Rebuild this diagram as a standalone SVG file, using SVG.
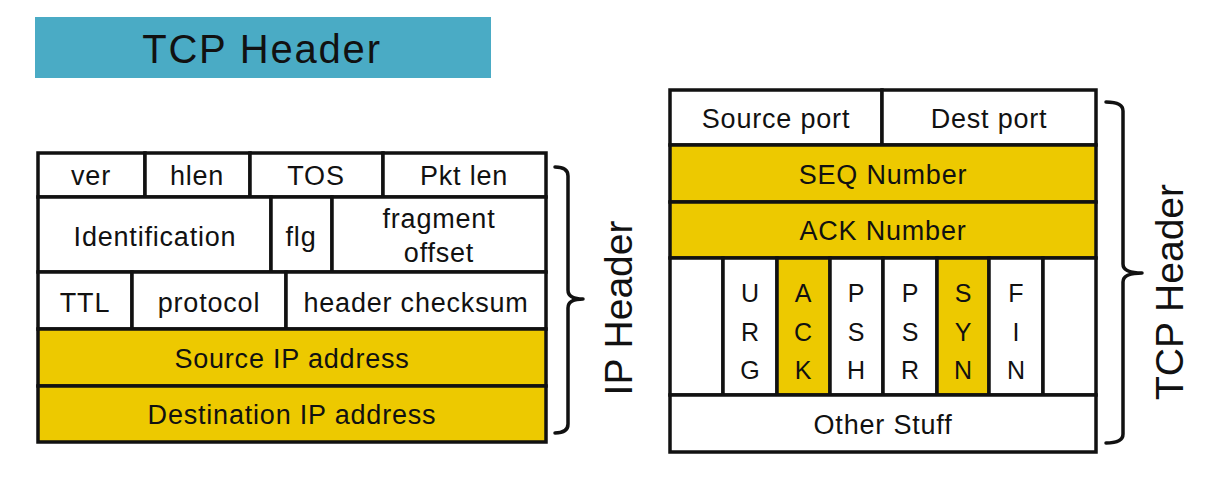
<svg xmlns="http://www.w3.org/2000/svg" width="1207" height="482" viewBox="0 0 1207 482">
<style>
.c{fill:#fff;stroke:#111;stroke-width:3.5}
.y{fill:#EDC900}
.t{font-family:"Liberation Sans",Arial,sans-serif;font-size:27px;letter-spacing:0.8px;fill:#111;text-anchor:middle}
.f{font-size:25px;letter-spacing:0}
.big{font-size:39px;letter-spacing:0}
.ttl{font-size:40px;letter-spacing:1.8px}
.br{fill:none;stroke:#111;stroke-width:3.5;stroke-linecap:round;stroke-linejoin:round}
</style>
<rect width="1207" height="482" fill="#fff"/>
<g id="title">
<rect x="35" y="17" width="456" height="61" fill="#4AABC5"/>
<text class="t ttl" x="262" y="63">TCP Header</text>
</g>
<g id="ip-header">
<g id="ip-ver"><rect class="c" x="38" y="153" width="107" height="44"/><text class="t" x="91" y="185">ver</text></g>
<g id="ip-hlen"><rect class="c" x="145" y="153" width="105" height="44"/><text class="t" x="197" y="185">hlen</text></g>
<g id="ip-tos"><rect class="c" x="250" y="153" width="133" height="44"/><text class="t" x="316" y="185">TOS</text></g>
<g id="ip-pktlen"><rect class="c" x="383" y="153" width="163" height="44"/><text class="t" x="464" y="185">Pkt len</text></g>
<g id="ip-id"><rect class="c" x="38" y="197" width="233" height="75"/><text class="t" x="155" y="246">Identification</text></g>
<g id="ip-flg"><rect class="c" x="271" y="197" width="61" height="75"/><text class="t" x="301" y="246">flg</text></g>
<g id="ip-frag"><rect class="c" x="332" y="197" width="214" height="75"/><text class="t" x="439" y="228">fragment</text><text class="t" x="439" y="262">offset</text></g>
<g id="ip-ttl"><rect class="c" x="38" y="272" width="94" height="57"/><text class="t" x="85" y="312">TTL</text></g>
<g id="ip-proto"><rect class="c" x="132" y="272" width="154" height="57"/><text class="t" x="209" y="312">protocol</text></g>
<g id="ip-cksum"><rect class="c" x="286" y="272" width="260" height="57"/><text class="t" x="416" y="312">header checksum</text></g>
<g id="ip-src"><rect class="c y" x="38" y="329" width="508" height="57"/><text class="t" x="292" y="368">Source IP address</text></g>
<g id="ip-dst"><rect class="c y" x="38" y="386" width="508" height="56"/><text class="t" x="292" y="424">Destination IP address</text></g>
</g>
<g id="tcp-header">
<g id="tcp-sport"><rect class="c" x="670" y="90" width="212" height="55"/><text class="t" x="776" y="128">Source port</text></g>
<g id="tcp-dport"><rect class="c" x="882" y="90" width="214" height="55"/><text class="t" x="989" y="128">Dest port</text></g>
<g id="tcp-seq"><rect class="c y" x="670" y="145" width="426" height="57"/><text class="t" x="883" y="184">SEQ Number</text></g>
<g id="tcp-ack"><rect class="c y" x="670" y="202" width="426" height="56"/><text class="t" x="883" y="240">ACK Number</text></g>
<g id="flag-blank1"><rect class="c" x="670" y="258" width="53" height="137"/></g>
<g id="flag-urg"><rect class="c" x="723" y="258" width="54" height="137"/><text class="t f" x="750" y="302">U</text><text class="t f" x="750" y="341">R</text><text class="t f" x="750" y="379">G</text></g>
<g id="flag-ack"><rect class="c y" x="777" y="258" width="53" height="137"/><text class="t f" x="803" y="302">A</text><text class="t f" x="803" y="341">C</text><text class="t f" x="803" y="379">K</text></g>
<g id="flag-psh"><rect class="c" x="830" y="258" width="53" height="137"/><text class="t f" x="856" y="302">P</text><text class="t f" x="856" y="341">S</text><text class="t f" x="856" y="379">H</text></g>
<g id="flag-psr"><rect class="c" x="883" y="258" width="54" height="137"/><text class="t f" x="910" y="302">P</text><text class="t f" x="910" y="341">S</text><text class="t f" x="910" y="379">R</text></g>
<g id="flag-syn"><rect class="c y" x="937" y="258" width="52" height="137"/><text class="t f" x="963" y="302">S</text><text class="t f" x="963" y="341">Y</text><text class="t f" x="963" y="379">N</text></g>
<g id="flag-fin"><rect class="c" x="989" y="258" width="54" height="137"/><text class="t f" x="1016" y="302">F</text><text class="t f" x="1016" y="341">I</text><text class="t f" x="1016" y="379">N</text></g>
<g id="flag-blank2"><rect class="c" x="1043" y="258" width="53" height="137"/></g>
<g id="tcp-other"><rect class="c" x="670" y="395" width="426" height="57"/><text class="t" x="883" y="434">Other Stuff</text></g>
</g>
<g id="connectors">
<path class="br" d="M555,167 Q568,167 568,176 L568,290 Q568,299 583,299 Q568,299 568,308 L568,424 Q568,433 555,433"/>
<path class="br" d="M1106,102 Q1123,102 1123,111 L1123,264 Q1123,273 1142,273 Q1123,273 1123,282 L1123,434 Q1123,443 1106,443"/>
</g>
<g id="label-ip"><text class="t big" transform="translate(632,308) rotate(-90)">IP Header</text></g>
<g id="label-tcp"><text class="t big" transform="translate(1183,292) rotate(-90)">TCP Header</text></g>
</svg>
